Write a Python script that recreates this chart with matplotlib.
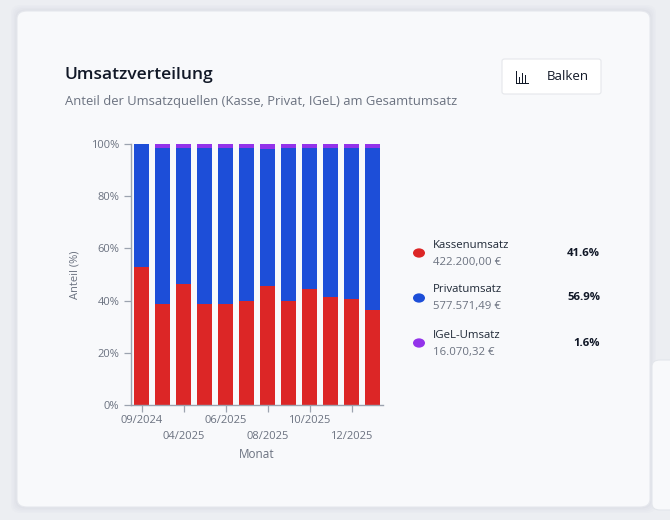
import numpy as np
import matplotlib
matplotlib.use("Agg")
import matplotlib.pyplot as plt
from matplotlib.patches import FancyBboxPatch, Rectangle

plt.rcParams['font.family'] = ['Open Sans', 'DejaVu Sans']

# Monatsanteile in Prozent
monate = ['09/2024', '03/2025', '04/2025', '05/2025', '06/2025', '07/2025',
          '08/2025', '09/2025', '10/2025', '11/2025', '12/2025', '01/2026']
kasse = [52.8, 38.7, 46.3, 38.7, 38.7, 39.8, 45.6, 39.8, 44.5, 41.5, 40.5, 36.4]
igel = [0.0, 1.5, 1.4, 1.4, 1.5, 1.4, 1.9, 1.5, 1.4, 1.6, 1.5, 1.6]
privat = [100 - k - g for k, g in zip(kasse, igel)]

quellen = ['Kassenumsatz', 'Privatumsatz', 'IGeL-Umsatz']
summen = ['422.200,00 €', '577.571,49 €', '16.070,32 €']
anteile = ['41.6%', '56.9%', '1.6%']
farben = ['#dc2626', '#1d4ed8', '#9333ea']

W, H = 670, 520
fig = plt.figure(figsize=(W / 100, H / 100), dpi=100)
fig.patch.set_facecolor('#eceef2')


def px(x, y):
    return x / W, 1 - y / H


# Karte mit Schatten
for i, a in enumerate([0.03, 0.03, 0.04, 0.05]):
    d = 6 - i * 1.5
    fig.patches.append(FancyBboxPatch(px(17 - d, 507 + d), (633 + 2 * d) / W, (496 + 2 * d) / H,
                                      boxstyle='round,pad=0,rounding_size=0.015',
                                      transform=fig.transFigure, facecolor='#9aa3b5',
                                      edgecolor='none', alpha=a, zorder=0))
fig.patches.append(FancyBboxPatch(px(17, 507), 633 / W, 496 / H,
                                  boxstyle='round,pad=0,rounding_size=0.015',
                                  transform=fig.transFigure, facecolor='#f8f9fb',
                                  edgecolor='#e6e8ed', linewidth=0.8, zorder=1))
# angeschnittene Karte rechts unten
fig.patches.append(FancyBboxPatch(px(652, 510), 40 / W, 150 / H,
                                  boxstyle='round,pad=0,rounding_size=0.012',
                                  transform=fig.transFigure, facecolor='#f8f9fb',
                                  edgecolor='#e3e6eb', linewidth=0.8, zorder=1))

fig.text(*px(65, 75), 'Umsatzverteilung', fontsize=12.5, fontweight='semibold',
         color='#111827', va='center', ha='left', zorder=3)
fig.text(*px(65, 102), 'Anteil der Umsatzquellen (Kasse, Privat, IGeL) am Gesamtumsatz',
         fontsize=9.4, color='#6b7280', va='center', ha='left', zorder=3)

# Button "Balken"
fig.patches.append(FancyBboxPatch(px(502, 94), 99 / W, 35 / H,
                                  boxstyle='round,pad=0,rounding_size=0.004',
                                  transform=fig.transFigure, facecolor='white',
                                  edgecolor='#e5e7eb', linewidth=0.8, zorder=2))
for bx, bh in zip([519, 522, 525], [6, 10, 8]):
    fig.patches.append(Rectangle(px(bx, 83), 1.4 / W, bh / H, transform=fig.transFigure,
                                 facecolor='#111827', edgecolor='none', zorder=3))
fig.patches.append(Rectangle(px(516, 84), 13 / W, 1.3 / H, transform=fig.transFigure,
                             facecolor='#111827', edgecolor='none', zorder=3))
fig.patches.append(Rectangle(px(516, 84), 1.3 / W, 13 / H, transform=fig.transFigure,
                             facecolor='#111827', edgecolor='none', zorder=3))
fig.text(*px(547, 77), 'Balken', fontsize=9.5, color='#111827', va='center', ha='left', zorder=3)

# Diagramm
l, b = px(131, 405)
ax = fig.add_axes([l, b, (383 - 131) / W, (405 - 144) / H], zorder=3)
ax.set_facecolor('none')
x = np.arange(len(monate))
ax.bar(x, kasse, width=0.72, color=farben[0], zorder=2)
ax.bar(x, privat, width=0.72, bottom=kasse, color=farben[1], zorder=2)
ax.bar(x, igel, width=0.72, bottom=np.array(kasse) + np.array(privat), color=farben[2], zorder=2)

ax.set_xlim(-0.5, len(monate) - 0.5)
ax.set_ylim(0, 100)
ax.set_yticks(range(0, 101, 20))
ax.set_yticklabels([f'{v}%' for v in range(0, 101, 20)])
ax.set_xticks(x[::2])
ax.set_xticklabels(monate[::2])
ax.tick_params(axis='both', colors='#9ca3af', labelcolor='#6b7280', labelsize=8, length=5, width=0.9)
ax.tick_params(axis='x', pad=2)
for t in ax.xaxis.get_major_ticks()[1::2]:
    t.set_pad(14)
for s in ['top', 'right']:
    ax.spines[s].set_visible(False)
for s in ['left', 'bottom']:
    ax.spines[s].set_color('#9ca3af')
    ax.spines[s].set_linewidth(1.0)

fig.text(*px(75, 275), 'Anteil (%)', rotation=90, fontsize=8, color='#6b7280',
         va='center', ha='center', zorder=3)
fig.text(*px(257, 455), 'Monat', fontsize=8.5, color='#6b7280', va='center', ha='center', zorder=3)

# Legende
for i, (q, s, a, c) in enumerate(zip(quellen, summen, anteile, farben)):
    y0 = 253 + i * 45
    fig.patches.append(plt.Circle(px(419, y0), 6 / W, transform=fig.transFigure,
                                  facecolor=c, edgecolor='none', zorder=3))
    fig.text(*px(433, y0 - 8), q, fontsize=8.2, color='#1f2937', va='center', ha='left', zorder=3)
    fig.text(*px(433, y0 + 9), s, fontsize=8.2, color='#6b7280', va='center', ha='left', zorder=3)
    fig.text(*px(600, y0), a, fontsize=8.2, fontweight='bold', color='#111827',
             va='center', ha='right', zorder=3)

fig.savefig('out.png', dpi=100, facecolor=fig.get_facecolor())
